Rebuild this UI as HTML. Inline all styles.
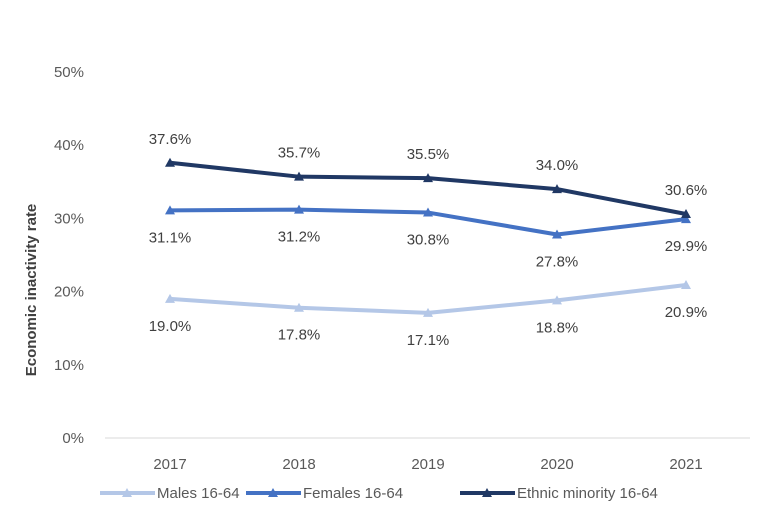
<!DOCTYPE html>
<html><head><meta charset="utf-8"><style>
body{margin:0;background:#fff;font-family:"Liberation Sans",sans-serif;}
</style></head><body>
<svg id="chart" width="778" height="517" xmlns="http://www.w3.org/2000/svg"></svg>
<script>
const years=["2017","2018","2019","2020","2021"];
const males=[19.0,17.8,17.1,18.8,20.9];
const females=[31.1,31.2,30.8,27.8,29.9];
const ethnic=[37.6,35.7,35.5,34.0,30.6];
const yTicks=[0,10,20,30,40,50];
const NS="http://www.w3.org/2000/svg";
const svg=document.getElementById('chart');
function x(i){return 170+i*129;}
function y(v){return 438-v*7.32;}
function el(t,a,txt){const e=document.createElementNS(NS,t);for(const k in a)e.setAttribute(k,a[k]);if(txt!==undefined)e.textContent=txt;svg.appendChild(e);return e;}
let e;
e=el('line',{x1:105,x2:750,y1:438,y2:438,stroke:'#d9d9d9','stroke-width':1});


yTicks.forEach(t=>{e=el('text',{x:84,y:y(t)+5,'text-anchor':'end','font-size':15,fill:'#595959'},t+'%');

});
years.forEach((yr,i)=>{e=el('text',{x:x(i),y:469,'text-anchor':'middle','font-size':15,fill:'#595959'},yr);

});
e=el('text',{x:0,y:0,transform:'translate(36,290) rotate(-90)','text-anchor':'middle','font-size':15,'font-weight':'bold',fill:'#404040'},'Economic inactivity rate');


function tri(cx,cy,c){return el('path',{d:`M${cx-5},${cy+4}L${cx+5},${cy+4}L${cx},${cy-5}Z`,fill:c});}
function series(vals,color,name,below){
  const pts=vals.map((v,i)=>x(i)+','+y(v)).join(' ');
  e=el('polyline',{points:pts,fill:'none',stroke:color,'stroke-width':4,'stroke-linejoin':'round'});
  
  
  vals.forEach((v,i)=>{e=tri(x(i),y(v),color);
    
    
    const b=below(i);
    e=el('text',{x:x(i),y:b?y(v)+32:y(v)-19,'text-anchor':'middle','font-size':15,fill:'#404040'},v.toFixed(1)+'%');
    
    });
}
series(males,'#b4c7e7','males',()=>true);
series(females,'#4472c4','females',()=>true);
series(ethnic,'#203864','ethnic-minority',()=>false);
function legend(lx,color,label,name){
  e=el('line',{x1:lx,x2:lx+55,y1:493,y2:493,stroke:color,'stroke-width':4});
  
  
  e=tri(lx+27,493,color);
  
  
  e=el('text',{x:lx+57,y:498,'font-size':15,fill:'#595959'},label);
  
  
}
legend(100,'#b4c7e7','Males 16-64','males');
legend(246,'#4472c4','Females 16-64','females');
legend(460,'#203864','Ethnic minority 16-64','ethnic-minority');
</script>
</body></html>
